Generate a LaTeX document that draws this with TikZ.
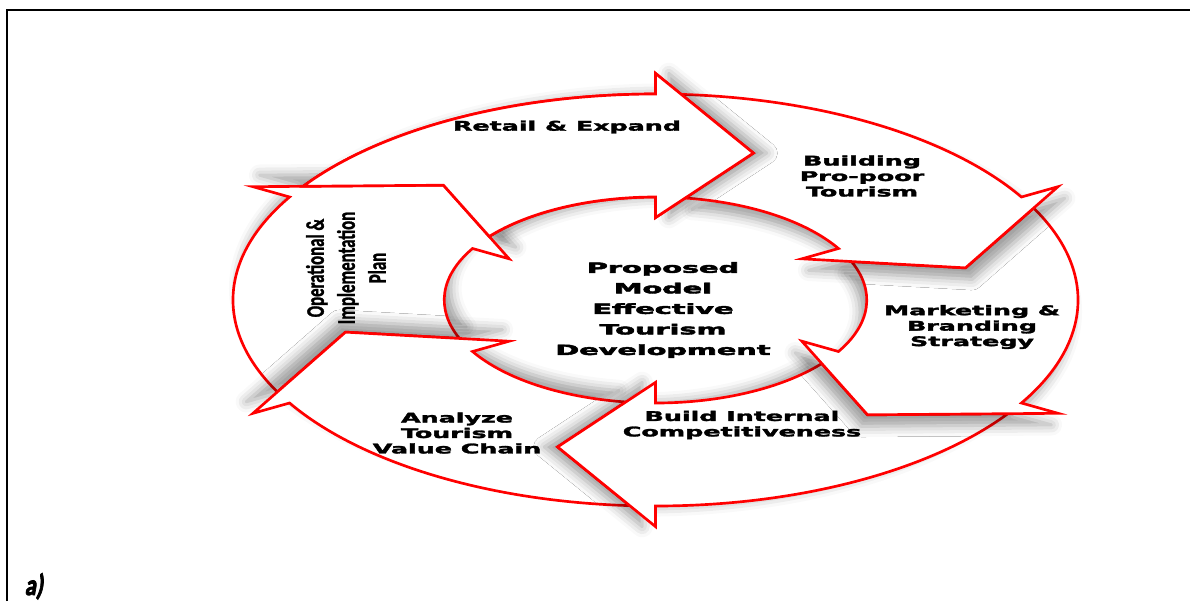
\documentclass[tikz,border=0pt]{standalone}
\usepackage{fontspec}
\setmainfont{DejaVu Sans}[BoldFeatures={FakeBold=2}]
\newfontfamily\hubfont{DejaVu Sans}[BoldFeatures={FakeBold=2.8}]
\newfontfamily\narrowfont{Carlito}[BoldFeatures={FakeBold=1.5}]
\newfontfamily\tagfont{Carlito}[BoldFeatures={FakeSlant=0.22, FakeBold=3}]
\usetikzlibrary{shadows.blur}

\definecolor{ringred}{RGB}{255,0,0}
\tikzstyle{segment} = [draw=ringred, line width=2pt, fill=white, line join=miter]
\tikzstyle{seglabel} = [align=center, font=\fontsize{10}{11.6}\selectfont\bfseries, xscale=1.9]
\tikzstyle{hubtext} = [align=center, font=\hubfont\fontsize{10.5}{15.4}\selectfont\bfseries, xscale=2.05]
\tikzset{haze/.style 2 args={blur shadow={shadow xshift=#1pt, shadow yshift=#2pt, shadow blur radius=8pt, shadow opacity=38}}}

% outline of one piece of the ring, its head at angle #1
\newcommand{\piecepath}[1]{(#1+56.5:1) arc[start angle=#1+56.5, end angle=#1, radius=1]
    -- (#1:1.1) -- (#1-18:0.75) -- (#1:0.4) -- (#1:0.5)
    arc[start angle=#1, end angle=#1+51.9, radius=0.5] -- (#1+42:0.75) -- cycle}

\begin{document}
\begin{tikzpicture}[x=0.75pt, y=-0.75pt]
\useasboundingbox (0,0) rectangle (1190,601);
\draw[line width=1.5pt] (7,601) -- (7,10) -- (1190,10);

% the ring of six arrows
\begin{scope}[shift={(655.5,300)}, x=316.9pt, y=154.5pt]
\foreach \a [evaluate=\a as \dx using {10*sin(\a)}, evaluate=\a as \dy using {-10*cos(\a)}] in {90,150,210,270,330,390}
  \draw[segment, haze={\dx}{\dy}] \piecepath{\a};
% first head throws its shadow on the last piece
\begin{scope}
\clip \piecepath{390};
\path[haze={10}{0}] \piecepath{90};
\end{scope}
\draw[segment] \piecepath{90};
\end{scope}

\node (retail) [seglabel] at (567,127) {Retail \& Expand};
\node (building) [seglabel] at (862,176) {Building\\Pro-poor\\Tourism};
\node (marketing) [seglabel] at (972,327) {Marketing \&\\Branding\\Strategy};
\node (internal) [seglabel] at (742,425) {Build Internal\\Competitiveness};
\node (analyze) [seglabel] at (457,433) {Analyze\\Tourism\\Value Chain};
\node (operational) [xscale=1.5, rotate=90, align=center, font=\narrowfont\fontsize{12.6}{15.5}\selectfont\bfseries] at (346,268) {Operational \&\\Implementation\\Plan};
\node (hub) [hubtext] at (663,310) {Proposed\\Model\\Effective\\Tourism\\Development};

\node (tag) [anchor=base west, yscale=1.3, font=\tagfont\fontsize{17}{20}\selectfont\bfseries] at (20,595) {a)};
\end{tikzpicture}
\end{document}
